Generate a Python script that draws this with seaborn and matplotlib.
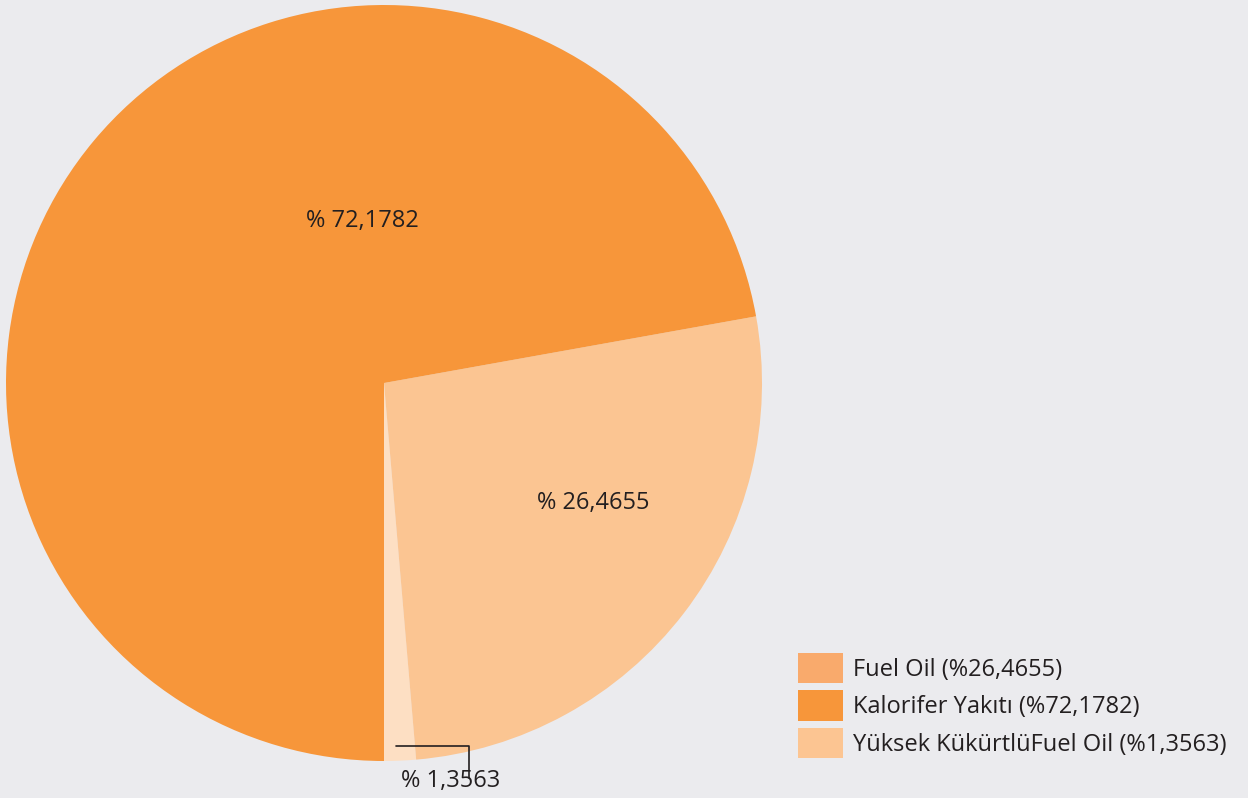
import numpy as np
import matplotlib
matplotlib.use("Agg")
import matplotlib.pyplot as plt
import seaborn as sns
from matplotlib.patches import Patch

# ---- data ----
categories = ["Yüksek KükürtlüFuel Oil", "Fuel Oil", "Kalorifer Yakıtı"]
values = [1.3563, 26.4655, 72.1782]
value_labels = ["1,3563", "26,4655", "72,1782"]
legend_order = ["Fuel Oil", "Kalorifer Yakıtı", "Yüksek KükürtlüFuel Oil"]

pie_colors = {"Yüksek KükürtlüFuel Oil": "#FDDFC3",
              "Fuel Oil": "#FBC592",
              "Kalorifer Yakıtı": "#F7963A"}
legend_colors = {"Fuel Oil": "#F9AA6C",
                 "Kalorifer Yakıtı": "#F7963A",
                 "Yüksek KükürtlüFuel Oil": "#FCC592"}

BG = "#EBEBEE"
W, H = 1248, 798

sns.set_theme(style="white")
plt.rcParams["font.family"] = ["Open Sans", "DejaVu Sans"]

fig = plt.figure(figsize=(W / 100, H / 100), dpi=100)
fig.patch.set_facecolor(BG)
ax = fig.add_axes([0, 0, 1, 1])
ax.set_facecolor(BG)

cx, cy, R = 384, H - 383, 378
wedges, _ = ax.pie(values, colors=[pie_colors[c] for c in categories],
                   startangle=-90, counterclock=True,
                   center=(cx, cy), radius=R, frame=True,
                   wedgeprops=dict(linewidth=0))
ax.set_xlim(0, W)
ax.set_ylim(0, H)
ax.set_aspect("equal")
ax.axis("off")

FS = 17
txt = dict(fontsize=FS, color="#231F20", ha="center", va="center")
# label positions (pixel layout)
ax.text(362, H - 221, "% " + value_labels[2], **txt)
ax.text(593, H - 503, "% " + value_labels[1], **txt)
ax.text(451, H - 781, "% " + value_labels[0], **txt)
# leader line for the small slice
ax.plot([396, 469, 469], [H - 746, H - 746, H - 778], color="#231F20", lw=1.2)

handles = [Patch(facecolor=legend_colors[c], edgecolor="none") for c in legend_order]
labels = []
for c in legend_order:
    v = value_labels[categories.index(c)]
    labels.append(f"{c} (%{v})")
leg = ax.legend(handles, labels, loc="upper left",
                bbox_to_anchor=(798 / W, 1 - 653 / H), bbox_transform=fig.transFigure,
                frameon=False, fontsize=FS, handlelength=1.9, handleheight=1.6,
                handletextpad=0.45, labelspacing=0.3, borderpad=0, borderaxespad=0)
for t in leg.get_texts():
    t.set_color("#231F20")

fig.savefig("out.png", dpi=100, facecolor=BG)
